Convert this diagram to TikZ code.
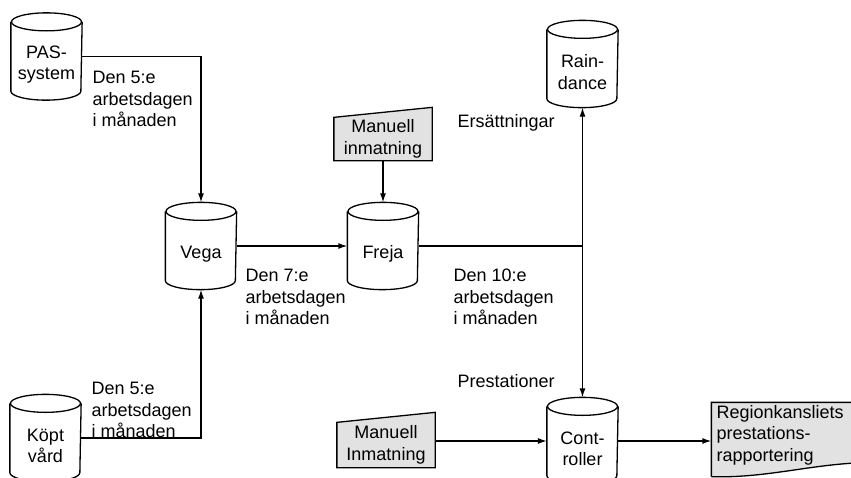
\documentclass[tikz,border=0pt]{standalone}
\usepackage{fontspec}
\setmainfont{Liberation Sans}
\usetikzlibrary{arrows.meta, positioning, calc}
\definecolor{stipc}{HTML}{E2E2E2}
\newcommand{\dbunit}[3]{%
  \node[dbbox] (#1) at #2 {};
  \draw[fill=white] ($(#1.north west)+(0,9)$) -- ($(#1.south west)+(0,-9)$)
    arc[start angle=180, end angle=0, x radius=35, y radius=9]
    -- ($(#1.north east)+(0,9)$);
  \draw[fill=white] ($(#1.north)+(0,9)$) ellipse[x radius=35, y radius=9];
  \node[align=center] at ($#2+(0,8)$) {#3};
}
\newcommand{\manin}[4]{%
  \node[minimum width=97, minimum height=#3, inner sep=0pt] (#1) at #2 {};
  \draw[fill=stipc] (#1.south west) -- (#1.north west)
    -- ($(#1.north east)+(0,-10)$) -- (#1.south east) -- cycle;
  \node[align=center] at #2 {#4};
}

\begin{document}
\begin{tikzpicture}[x=1pt, y=-1pt, line width=1.3pt,
      font=\fontsize{18}{21.5}\selectfont,
      arr/.style={-{Latex[length=9pt, width=6pt]}},
      dbbox/.style={rectangle, minimum width=70, minimum height=86, inner sep=0pt},
      lbl/.style={anchor=west, align=left, inner sep=0pt}]
    \useasboundingbox (0,0) rectangle (851,477);
    % databases
    \dbunit{pas}{(46.5,56.5)}{PAS-\\system};
    \dbunit{vega}{(201,246)}{Vega};
    \dbunit{freja}{(383,246)}{Freja};
    \dbunit{rain}{(582.5,64)}{Rain-\\dance};
    \dbunit{kopt}{(45.5,438)}{Köpt\\vård};
    \dbunit{ctrl}{(582.5,441)}{Cont-\\roller};
    % manual input
    \manin{man1}{(383,139)}{42}{Manuell\\inmatning};
    \manin{man2}{(386,445)}{44}{Manuell\\Inmatning};
    % report document
    \node[rectangle, minimum width=170, minimum height=73, inner sep=0pt]
      (doc) at (797,439.5) {};
    \draw[fill=stipc] (doc.south west) -- (doc.north west) -- (doc.north east)
      -- ($(doc.south east)+(0,-14)$)
      .. controls ($(doc.south west)+(110,-16)$) and ($(doc.south west)+(60,2)$)
      .. (doc.south west);
    \node[lbl] at (716,435) {Regionkansliets\\prestations-\\rapportering};
    % flows
    \draw[arr] (pas.east) -| (vega.north);
    \draw[arr] (kopt.east) -| (vega.south);
    \draw[arr] (vega.east) -- (freja.west);
    \draw[arr] (man1.south) -- (freja.north);
    \coordinate (jn) at (freja.east -| rain.south);
    \draw (freja.east) -- (jn);
    \draw[arr] (jn) -- (rain.south);
    \draw[arr] (jn) -- (ctrl.north);
    \draw[arr] (man2.east |- ctrl.west) -- (ctrl.west);
    \draw[arr] (ctrl.east) -- (doc.west |- ctrl.east);
    % labels
    \node[lbl] at (92,99) {Den 5:e\\arbetsdagen\\i månaden};
    \node[lbl] at (91,410) {Den 5:e\\arbetsdagen\\i månaden};
    \node[lbl] at (245,297) {Den 7:e\\arbetsdagen\\i månaden};
    \node[lbl] at (453,297) {Den 10:e\\arbetsdagen\\i månaden};
    \node[lbl] at (457,123) {Ersättningar};
    \node[lbl] at (457,381) {Prestationer};
\end{tikzpicture}
\end{document}
